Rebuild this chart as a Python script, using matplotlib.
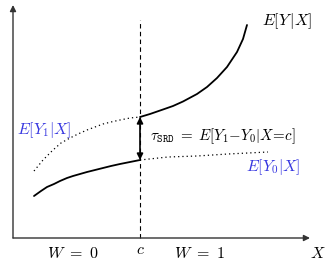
import matplotlib
matplotlib.use("Agg")
import matplotlib.pyplot as plt

plt.rcParams['mathtext.fontset'] = 'cm'

# cutoff and axis extents (chart units, origin at the axes corner)
cutoff = 127
x_axis_end = 297
y_axis_end = 233
dash_top = 218

# E[Y0|X] observed part (left of cutoff, solid)
y0_left_x = [21, 28, 34, 41, 47, 54, 60, 67, 74, 82, 90, 98, 107, 117, 127]
y0_left_y = [42, 47, 51, 54, 57, 60, 62, 64, 66, 68, 70, 72, 74, 76, 78]
# E[Y0|X] counterfactual (right of cutoff, dotted)
y0_right_x = [127, 155, 184, 215, 255]
y0_right_y = [78, 81, 82, 84, 86]
# E[Y1|X] counterfactual (left of cutoff, dotted)
y1_left_x = [21, 30, 40, 48, 57, 65, 74, 82, 90, 98, 107, 117, 127]
y1_left_y = [67, 78, 88, 95, 100, 104, 108, 111, 114, 116, 118, 120, 121]
# E[Y1|X] observed part (right of cutoff, solid)
y1_right_x = [127, 137, 150, 160, 170, 184, 194, 204, 214, 224, 230, 234]
y1_right_y = [121, 124, 128.5, 132, 136.5, 144, 151, 160, 171, 186, 199, 213]

blue = '#3636e0'
fs = 11.5

fig = plt.figure(figsize=(3.25, 2.67), dpi=100)
ax = fig.add_axes([0, 0, 1, 1])
ax.set_xlim(-13, 312)
ax.set_ylim(-29, 238)
ax.axis('off')

# axes with arrows
ax.annotate('', xy=(0, y_axis_end), xytext=(0, 0),
            arrowprops=dict(arrowstyle='-|>', color='#333333', lw=1.0,
                            mutation_scale=9, shrinkA=0, shrinkB=0))
ax.annotate('', xy=(x_axis_end, 0), xytext=(0, 0),
            arrowprops=dict(arrowstyle='-|>', color='#333333', lw=1.0,
                            mutation_scale=9, shrinkA=0, shrinkB=0))

# cutoff line
ax.plot([cutoff, cutoff], [0, dash_top], color='black', lw=0.8, ls=(0, (4, 3)))

# curves
ax.plot(y0_left_x, y0_left_y, color='black', lw=1.3, solid_capstyle='round')
ax.plot(y1_right_x, y1_right_y, color='black', lw=1.3, solid_capstyle='round')
ax.plot(y1_left_x, y1_left_y, color='black', lw=0.9, ls=(0, (1, 2.4)))
ax.plot(y0_right_x, y0_right_y, color='black', lw=0.9, ls=(0, (1, 2.4)))

# treatment effect arrow
ax.annotate('', xy=(cutoff, y0_left_y[-1]), xytext=(cutoff, y1_left_y[-1]),
            arrowprops=dict(arrowstyle='<|-|>', color='black', lw=1.2,
                            mutation_scale=9, shrinkA=0, shrinkB=0))

# labels
ax.text(274, 217, r'$E[Y\,|X]$', fontsize=fs, ha='center', va='center')
ax.text(31, 108, r'$E[Y_1|X]$', fontsize=fs, ha='center', va='center', color=blue)
ax.text(260, 71, r'$E[Y_0|X]$', fontsize=fs, ha='center', va='center', color=blue)
ax.text(137, 102, r'$\tau_{\mathtt{SRD}}\;=\;E[Y_1\!-\!Y_0|X\!=\!c]$', fontsize=10.8,
        ha='left', va='center')
ax.text(60, -15, r'$W\ =\ 0$', fontsize=fs, ha='center', va='center')
ax.text(cutoff, -12, r'$c$', fontsize=fs, ha='center', va='center')
ax.text(187, -15, r'$W\ =\ 1$', fontsize=fs, ha='center', va='center')
ax.text(305, -15, r'$X$', fontsize=fs, ha='center', va='center')

fig.savefig('out.png', dpi=100)
